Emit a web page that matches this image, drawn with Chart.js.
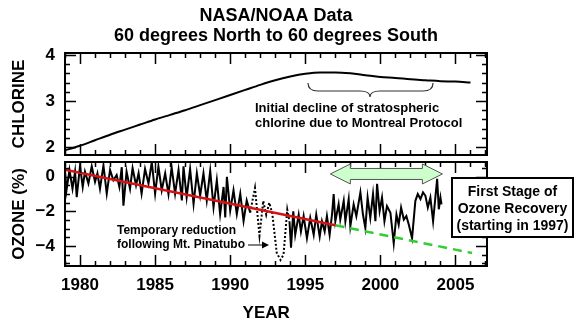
<!DOCTYPE html>
<html>
<head>
<meta charset="utf-8">
<script src="https://cdn.jsdelivr.net/npm/chart.js@4.4.0/dist/chart.umd.min.js"></script>
<style>
  html, body { margin: 0; padding: 0; background: #fff; }
  #wrap { position: relative; width: 585px; height: 326px; }
  #top { position: absolute; left: 0; top: 0; }
  #bottom { position: absolute; left: 0; top: 160px; }
</style>
</head>
<body>
<div id="wrap">
  <canvas id="top" width="585" height="160"></canvas>
  <canvas id="bottom" width="585" height="166"></canvas>
</div>
<script>
// tick labels
const yearTicks = [1980, 1985, 1990, 1995, 2000, 2005];
const chlorineTicks = [2, 3, 4];
const ozoneTicks = [0, -2, -4];

// chlorine (top panel)
const chlorineYears = [1979, 1980, 1981, 1982, 1983, 1984, 1985, 1986, 1987, 1988, 1989, 1990, 1991, 1992,
  1993, 1994, 1995, 1996, 1997, 1998, 1999, 2000, 2001, 2002, 2003, 2004, 2005, 2006];
const chlorine = [1.93, 2.03, 2.15, 2.27, 2.38, 2.49, 2.6, 2.7, 2.8, 2.91, 3.02, 3.13, 3.24, 3.35,
  3.45, 3.53, 3.59, 3.62, 3.62, 3.6, 3.56, 3.52, 3.5, 3.47, 3.45, 3.43, 3.42, 3.4];

// ozone, before Pinatubo
const ozoneYearsA = [1979.0, 1979.1, 1979.3, 1979.5, 1979.67, 1979.78, 1980.0, 1980.18, 1980.33, 1980.56, 1980.78,
  1981.0, 1981.16, 1981.33, 1981.56, 1981.78, 1982.0, 1982.22, 1982.44, 1982.62, 1982.78, 1982.89, 1983.1,
  1983.33, 1983.5, 1983.73, 1983.9, 1984.1, 1984.33, 1984.56, 1984.78, 1985.0, 1985.22, 1985.44, 1985.67,
  1985.89, 1986.1, 1986.33, 1986.56, 1986.78, 1986.89, 1987.1, 1987.33, 1987.56, 1987.78, 1988.0, 1988.22,
  1988.44, 1988.67, 1988.89, 1989.11, 1989.33, 1989.56, 1989.67, 1989.78, 1990.0, 1990.22, 1990.44, 1990.67,
  1990.89, 1991.1, 1991.33];
const ozoneA = [0.39, -0.78, 0.39, -0.69, 0.29, -1.18, 0.62, -0.59, 0.29, -0.39, 0.6,
  -0.29, 0.2, -0.69, 0.65, -0.98, 0.39, -0.2, 0.1, -0.59, 0.55, -1.67, 0.29,
  -0.69, 0.5, -0.49, 0.2, -0.98, 0.45, -0.39, 0.85, -0.98, 0.6, -0.78, 0.2,
  -1.0, 0.55, -0.98, 0.39, -1.37, 0.6, -1.18, 0.45, -1.57, 0.2, -1.08, 0.2,
  -1.37, 0.35, -1.76, -0.2, -2.16, -0.59, -2.35, 0, -1.96, -0.78, -2.16, -0.98,
  -2.55, -1.37, -2.06];

// ozone, Pinatubo period (dotted)
const ozoneYearsB = [1991.33, 1991.65, 1991.95, 1992.2, 1992.4, 1992.6, 1992.8, 1993.1, 1993.35, 1993.55, 1993.8, 1993.95];
const ozoneB = [-2.06, -0.65, -3.4, -1.4, -2.2, -1.5, -2.1, -4.4, -4.8, -4.5, -1.9, -2.6];

// ozone, after Pinatubo
const ozoneYearsC = [1993.95, 1994.05, 1994.2, 1994.33, 1994.56, 1994.71, 1994.89, 1995.11, 1995.33, 1995.56,
  1995.73, 1995.96, 1996.11, 1996.29, 1996.44, 1996.62, 1996.78, 1996.89, 1997.0, 1997.22, 1997.33, 1997.56,
  1997.67, 1997.89, 1998.0, 1998.22, 1998.4, 1998.67, 1998.84, 1999.0, 1999.15, 1999.33, 1999.51, 1999.67,
  1999.78, 1999.95, 2000.11, 2000.27, 2000.44, 2000.67, 2000.89, 2001.07, 2001.22, 2001.38, 2001.56, 2001.73,
  2001.89, 2002.11, 2002.33, 2002.49, 2002.67, 2002.84, 2003.0, 2003.16, 2003.33, 2003.51, 2003.78, 2003.89,
  2004.0, 2004.07];
const ozoneC = [-2.6, -4.1, -2.0, -3.35, -2.2, -3.16, -2.27, -3.55, -2.37, -3.35,
  -2.18, -3.45, -2.57, -3.16, -2.27, -3.35, -2.18, -1.0, -2.57, -1.59, -2.47, -1.39,
  -2.57, -1.29, -2.86, -1.59, -2.27, -0.9, -2.18, -2.96, -1.2, -2.37, -1.0, -2.57,
  -0.41, -1.98, -1.2, -2.57, -1.69, -2.08, -3.84, -2.18, -2.76, -1.78, -2.47, -2.27,
  -2.76, -3.55, -1.39, -1.0, -1.29, -0.9, -1.1, -1.78, -1.2, -2.57, -0.12, -1.88,
  -1.2, -1.6];

// trend lines
const trendYears = [1979, 1997];
const trend = [0.4, -2.8];
const projYears = [1997, 2006.1];
const projection = [-2.8, -4.4];

const FONT = 'Arial, "Liberation Sans", sans-serif';
const pts = (xs, ys) => xs.map((x, i) => ({ x, y: ys[i] }));

// frame with inward ticks on all four sides
function drawFrame(chart, yStep, yMajor) {
  const { ctx, chartArea: a, scales: { x, y } } = chart;
  ctx.save();
  ctx.strokeStyle = '#000';
  ctx.lineWidth = 1.5;
  ctx.beginPath();
  for (let yr = 1979; yr <= 2007; yr++) {
    const px = Math.round(x.getPixelForValue(yr)) + 0.5;
    const len = yr % 5 === 0 ? 11 : 5;
    ctx.moveTo(px, a.top); ctx.lineTo(px, a.top + len);
    ctx.moveTo(px, a.bottom); ctx.lineTo(px, a.bottom - len);
  }
  const k0 = Math.ceil(y.min / yStep), k1 = Math.floor(y.max / yStep);
  for (let k = k0; k <= k1; k++) {
    const v = k * yStep;
    const r = v / yMajor;
    const len = Math.abs(r - Math.round(r)) < 1e-6 ? 11 : 5;
    const py = Math.round(y.getPixelForValue(v)) + 0.5;
    ctx.moveTo(a.left, py); ctx.lineTo(a.left + len, py);
    ctx.moveTo(a.right, py); ctx.lineTo(a.right - len, py);
  }
  ctx.stroke();
  ctx.lineWidth = 2;
  ctx.strokeRect(a.left, a.top, a.right - a.left, a.bottom - a.top);
  ctx.restore();
}

// no extra room around axes for edge labels
function fixAxis(size) {
  return s => {
    if (s.isHorizontal()) s.height = size; else s.width = size;
    s.paddingTop = 0; s.paddingBottom = 0; s.paddingLeft = 0; s.paddingRight = 0;
  };
}

const topNotes = {
  id: 'topNotes',
  afterDatasetsDraw(chart) {
    drawFrame(chart, 0.2, 1);
    const { ctx } = chart;
    ctx.save();
    // brace
    ctx.strokeStyle = '#333';
    ctx.lineWidth = 1.2;
    ctx.beginPath();
    ctx.moveTo(308, 83);
    ctx.quadraticCurveTo(308, 91, 318, 91);
    ctx.lineTo(360, 91);
    ctx.quadraticCurveTo(370, 91, 370, 97);
    ctx.quadraticCurveTo(370, 91, 380, 91);
    ctx.lineTo(423, 91);
    ctx.quadraticCurveTo(433, 91, 433, 83);
    ctx.stroke();
    ctx.fillStyle = '#000';
    ctx.font = 'bold 13px ' + FONT;
    ctx.textAlign = 'left';
    ctx.textBaseline = 'middle';
    ctx.fillText('Initial decline of stratospheric', 255, 108);
    ctx.fillText('chlorine due to Montreal Protocol', 255, 123);
    ctx.restore();
  }
};

const bottomNotes = {
  id: 'bottomNotes',
  afterDatasetsDraw(chart) {
    drawFrame(chart, 0.5, 2);
    const { ctx, scales: { x, y } } = chart;
    ctx.save();
    // green double arrow
    const x1 = x.getPixelForValue(1996.67), x2 = x.getPixelForValue(2004.13);
    const yc = y.getPixelForValue(0.16);
    const hl = 20, hh = 10, sh = 5.5;
    ctx.beginPath();
    ctx.moveTo(x1, yc);
    ctx.lineTo(x1 + hl, yc - hh);
    ctx.lineTo(x1 + hl, yc - sh);
    ctx.lineTo(x2 - hl, yc - sh);
    ctx.lineTo(x2 - hl, yc - hh);
    ctx.lineTo(x2, yc);
    ctx.lineTo(x2 - hl, yc + hh);
    ctx.lineTo(x2 - hl, yc + sh);
    ctx.lineTo(x1 + hl, yc + sh);
    ctx.lineTo(x1 + hl, yc + hh);
    ctx.closePath();
    ctx.fillStyle = '#ccffcc';
    ctx.fill();
    ctx.strokeStyle = '#555';
    ctx.lineWidth = 1;
    ctx.stroke();

    // recovery box
    ctx.fillStyle = '#fff';
    ctx.fillRect(452, 18, 121, 59);
    ctx.strokeStyle = '#000';
    ctx.lineWidth = 2;
    ctx.strokeRect(452, 18, 121, 59);
    ctx.fillStyle = '#000';
    ctx.font = 'bold 14px ' + FONT;
    ctx.textAlign = 'center';
    ctx.textBaseline = 'middle';
    ctx.fillText('First Stage of', 512.5, 32);
    ctx.fillText('Ozone Recovery', 512.5, 49);
    ctx.fillText('(starting in 1997)', 512.5, 66);

    // Pinatubo note
    ctx.font = 'bold 12px ' + FONT;
    ctx.textAlign = 'left';
    ctx.fillText('Temporary reduction', 117, 71);
    ctx.fillText('following Mt. Pinatubo', 117, 85);
    ctx.lineWidth = 1;
    ctx.beginPath();
    ctx.moveTo(248, 85); ctx.lineTo(263, 85);
    ctx.stroke();
    ctx.beginPath();
    ctx.moveTo(269, 85); ctx.lineTo(262, 81.5); ctx.lineTo(262, 88.5);
    ctx.closePath();
    ctx.fill();

    // x axis title
    ctx.font = 'bold 17px ' + FONT;
    ctx.textAlign = 'center';
    ctx.fillText('YEAR', x.getPixelForValue(1992.4), 153);
    ctx.restore();
  }
};

const tickFont = { family: FONT, size: 17, weight: 'bold' };
const minus = v => (v < 0 ? '\u2212' + Math.abs(v) : String(v));

new Chart(document.getElementById('top'), {
  type: 'line',
  data: {
    datasets: [{
      data: pts(chlorineYears, chlorine),
      borderColor: '#000',
      borderWidth: 2,
      pointRadius: 0,
      cubicInterpolationMode: 'monotone'
    }]
  },
  options: {
    responsive: false,
    animation: false,
    layout: { padding: { left: 0, right: 98, top: 0, bottom: 5 } },
    plugins: {
      legend: { display: false },
      tooltip: { enabled: false },
      title: {
        display: true,
        fullSize: false,
        text: ['NASA/NOAA Data', '60 degrees North to 60 degrees South'],
        color: '#000',
        font: { family: FONT, size: 18, weight: 'bold', lineHeight: 1.1 },
        padding: { top: 6, bottom: 7.4 }
      }
    },
    scales: {
      x: { type: 'linear', display: false, min: 1979, max: 2007.1 },
      y: {
        min: 1.83, max: 4.04,
        afterBuildTicks: s => { s.ticks = chlorineTicks.map(v => ({ value: v })); },
        afterFit: fixAxis(65),
        grid: { display: false, drawTicks: false },
        border: { display: false },
        ticks: { font: tickFont, color: '#000', padding: 10 },
        title: {
          display: true, text: 'CHLORINE', color: '#000',
          font: { family: FONT, size: 17, weight: 'bold' },
          padding: { top: 9, bottom: 0 }
        }
      }
    }
  },
  plugins: [topNotes]
});

new Chart(document.getElementById('bottom'), {
  type: 'line',
  data: {
    datasets: [
      { data: pts(trendYears, trend), borderColor: '#d41414', borderWidth: 2.5, pointRadius: 0 },
      { data: pts(projYears, projection), borderColor: '#33cc33', borderWidth: 2.5, borderDash: [9, 6], pointRadius: 0 },
      { data: pts(ozoneYearsA, ozoneA), borderColor: '#000', borderWidth: 2, pointRadius: 0 },
      { data: pts(ozoneYearsB, ozoneB), borderColor: '#000', borderWidth: 2, borderDash: [2, 2], pointRadius: 0 },
      { data: pts(ozoneYearsC, ozoneC), borderColor: '#000', borderWidth: 2, pointRadius: 0 }
    ]
  },
  options: {
    responsive: false,
    animation: false,
    layout: { padding: { left: 0, right: 98, top: 2, bottom: 0 } },
    plugins: { legend: { display: false }, tooltip: { enabled: false } },
    scales: {
      x: {
        type: 'linear', min: 1979, max: 2007.1,
        afterBuildTicks: s => { s.ticks = yearTicks.map(v => ({ value: v })); },
        afterFit: fixAxis(60),
        grid: { display: false, drawTicks: false },
        border: { display: false },
        ticks: { font: tickFont, color: '#000', padding: 9, maxRotation: 0, callback: v => String(v) }
      },
      y: {
        min: -5.15, max: 0.85,
        afterBuildTicks: s => { s.ticks = ozoneTicks.map(v => ({ value: v })); },
        afterFit: fixAxis(65),
        grid: { display: false, drawTicks: false },
        border: { display: false },
        ticks: { font: tickFont, color: '#000', padding: 10, callback: minus },
        title: {
          display: true, text: 'OZONE (%)', color: '#000',
          font: { family: FONT, size: 17, weight: 'bold' },
          padding: { top: 9, bottom: 0 }
        }
      }
    }
  },
  plugins: [bottomNotes]
});
</script>
</body>
</html>
